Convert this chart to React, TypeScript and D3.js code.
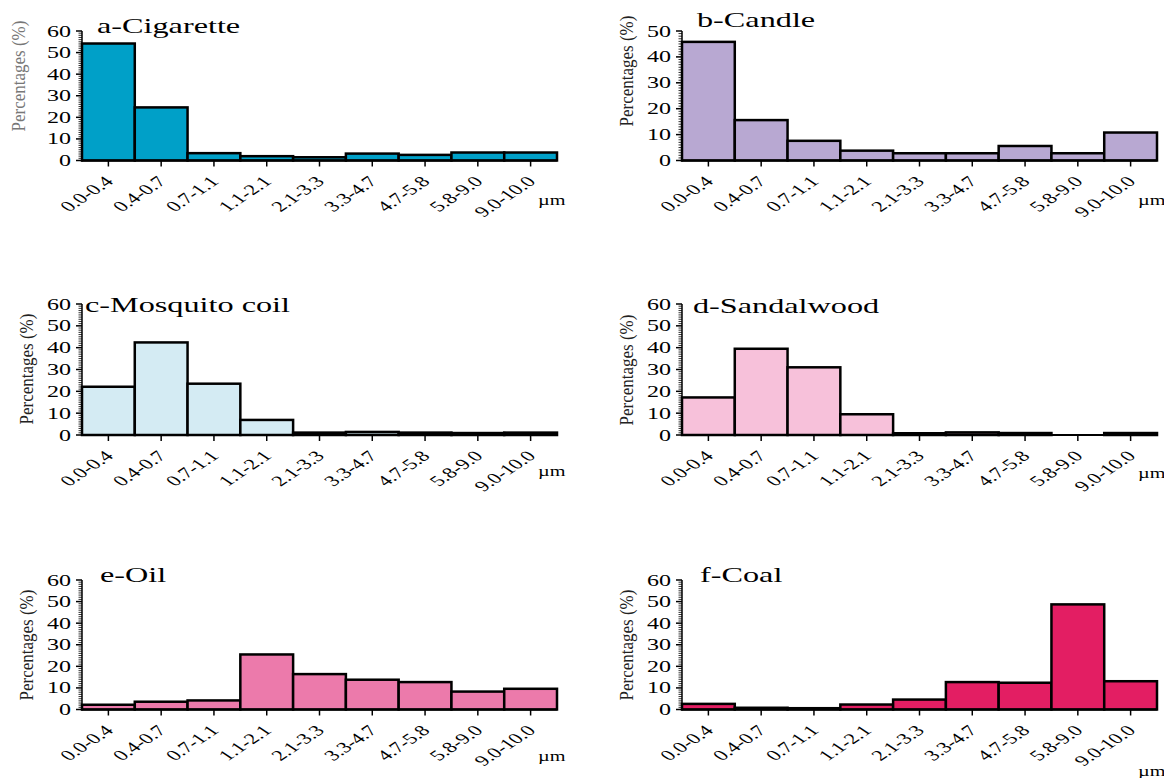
import { useEffect, useRef } from "react";
import * as d3 from "d3";

const sizeBins = ["0.0-0.4", "0.4-0.7", "0.7-1.1", "1.1-2.1", "2.1-3.3", "3.3-4.7", "4.7-5.8", "5.8-9.0", "9.0-10.0"];

const cigarette = [54.2, 24.6, 3.4, 2.0, 1.5, 3.2, 2.6, 3.7, 3.7];
const candle = [45.8, 15.6, 7.6, 3.8, 2.8, 2.8, 5.6, 2.8, 10.8];
const mosquitoCoil = [22.1, 42.4, 23.5, 6.9, 1.1, 1.4, 1.1, 0.9, 1.1];
const sandalwood = [17.2, 39.5, 31.0, 9.5, 0.8, 1.2, 0.9, 0, 0.9];
const oil = [2.2, 3.6, 4.2, 25.5, 16.4, 13.8, 12.7, 8.3, 9.6];
const coal = [2.6, 0.8, 0.6, 2.3, 4.6, 12.7, 12.4, 48.7, 13.1];

const titles = ["a-Cigarette", "b-Candle", "c-Mosquito coil", "d-Sandalwood", "e-Oil", "f-Coal"];
const yMaxes = [60, 50, 60, 60, 60, 60];
const fills = ["#00a0c8", "#b8a8d2", "#d4ebf3", "#f7c1da", "#ec7aab", "#e31e63"];
const yTitle = "Percentages (%)";
const unit = "\u00b5m";

const series = [cigarette, candle, mosquitoCoil, sandalwood, oil, coal];

// panel placement (px); text is stretched sideways like the original figure
const layout = [
  { left: 82, top: 31, base: 160.5, tx: 97, ty: 33, lx: 25, ly: 76, lc: "#777", uy: 205 },
  { left: 682, top: 31, base: 160.5, tx: 697, ty: 27, lx: 633, ly: 71, lc: "#222", uy: 205 },
  { left: 82, top: 304, base: 435, tx: 85, ty: 312, lx: 33, ly: 369, lc: "#222", uy: 476 },
  { left: 682, top: 304, base: 435, tx: 693, ty: 313, lx: 633, ly: 370, lc: "#222", uy: 478 },
  { left: 82, top: 580, base: 709.5, tx: 100, ty: 582, lx: 33, ly: 645, lc: "#222", uy: 761 },
  { left: 682, top: 580, base: 709.5, tx: 700, ty: 582, lx: 633, ly: 645, lc: "#222", uy: 776 },
];

const plotW = 475;
const K = 1.5;
const FONT = "'Liberation Serif', 'Times New Roman', serif";

export default function App() {
  const svgRef = useRef<SVGSVGElement>(null);

  useEffect(() => {
    if (!svgRef.current) return;
    const svg = d3.select(svgRef.current);
    svg.selectAll("*").remove();

    series.forEach((values, i) => {
      const L = layout[i];
      const x = d3.scaleBand().domain(sizeBins).range([L.left, L.left + plotW]).padding(0);
      const y = d3.scaleLinear().domain([0, yMaxes[i]]).range([L.base, L.top]);
      const g = svg.append("g");

      // y axis with dense minor ticks
      g.append("line")
        .attr("x1", L.left).attr("x2", L.left)
        .attr("y1", L.base + 1).attr("y2", y(yMaxes[i]))
        .attr("stroke", "#000").attr("stroke-width", 1.5);
      g.selectAll("line.minor")
        .data(d3.range(0, yMaxes[i] + 1, 1))
        .join("line")
        .attr("class", "minor")
        .attr("x1", L.left).attr("x2", (d) => L.left - (d % 10 === 0 ? 6 : 3.5))
        .attr("y1", (d) => y(d)).attr("y2", (d) => y(d))
        .attr("stroke", "#000").attr("stroke-width", (d) => (d % 10 === 0 ? 1.5 : 0.8));
      g.selectAll("text.ytick")
        .data(y.ticks(yMaxes[i] / 10))
        .join("text")
        .attr("class", "ytick")
        .attr("transform", (d) => `translate(${L.left - 11},${y(d) + 5.5}) scale(${K},1)`)
        .attr("text-anchor", "end")
        .attr("font-size", 16)
        .text((d) => d);

      // bars
      g.selectAll("rect")
        .data(values)
        .join("rect")
        .attr("x", (_, j) => x(sizeBins[j]) || 0)
        .attr("y", (d) => y(d))
        .attr("width", x.bandwidth())
        .attr("height", (d) => L.base - y(d))
        .attr("fill", fills[i])
        .attr("stroke", "#000")
        .attr("stroke-width", (d) => (d > 0 ? 2.5 : 0));

      // x axis
      g.append("line")
        .attr("x1", L.left).attr("x2", L.left + plotW)
        .attr("y1", L.base).attr("y2", L.base)
        .attr("stroke", "#000").attr("stroke-width", 2);
      g.selectAll("line.xtick")
        .data(sizeBins)
        .join("line")
        .attr("class", "xtick")
        .attr("x1", (d) => (x(d) || 0) + x.bandwidth() / 2)
        .attr("x2", (d) => (x(d) || 0) + x.bandwidth() / 2)
        .attr("y1", L.base).attr("y2", L.base + 6)
        .attr("stroke", "#000").attr("stroke-width", 1.5);
      g.selectAll("text.xtick")
        .data(sizeBins)
        .join("text")
        .attr("class", "xtick")
        .attr("transform", (d) => `translate(${(x(d) || 0) + x.bandwidth() / 2 + 6},${L.base + 22}) scale(${K},1) rotate(-45)`)
        .attr("text-anchor", "end")
        .attr("font-size", 15)
        .text((d) => d);

      g.append("text")
        .attr("transform", `translate(${L.left + plotW - 19},${L.uy}) scale(1.35,1)`)
        .attr("font-size", 15)
        .text(unit);

      g.append("text")
        .attr("transform", `translate(${L.tx},${L.ty}) scale(${K},1)`)
        .attr("font-size", 21.5)
        .text(titles[i]);

      g.append("text")
        .attr("transform", `translate(${L.lx},${L.ly}) scale(1.15,1) rotate(-90)`)
        .attr("text-anchor", "middle")
        .attr("font-size", 17)
        .attr("fill", L.lc)
        .text(yTitle);
    });
  }, []);

  return (
    <svg
      ref={svgRef}
      width={1164}
      height={778}
      style={{ position: "absolute", left: 0, top: 0, background: "#fff", fontFamily: FONT }}
    />
  );
}
